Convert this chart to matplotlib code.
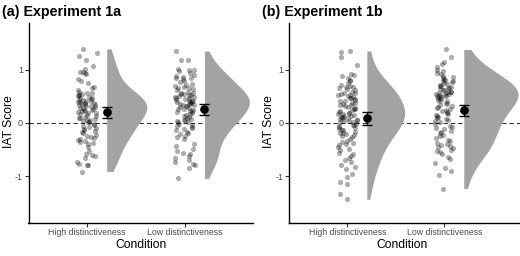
import numpy as np
import matplotlib
matplotlib.use("Agg")
import matplotlib.pyplot as plt

plt.rcParams['font.family'] = ['Liberation Sans', 'DejaVu Sans']

# ---------------- data ----------------
categories = ["High distinctiveness", "Low distinctiveness"]
panel_titles = ["(a) Experiment 1a", "(b) Experiment 1b"]
y_ticks = [-1, 0, 1]
y_tick_labels = ["-1", "0", "1"]

exp1a_high = [1.39, 1.31, 1.25, 1.19, 1.07, 1.02, 0.96, 0.95, 0.94, 0.92, 0.82, 0.78, 0.75, 0.68, 0.65, 0.62,
              0.58, 0.57, 0.56, 0.55, 0.53, 0.52, 0.50, 0.49, 0.47, 0.46, 0.45, 0.44, 0.43, 0.42, 0.41, 0.40,
              0.39, 0.38, 0.37, 0.36, 0.35, 0.34, 0.33, 0.32, 0.31, 0.30, 0.29, 0.28, 0.27, 0.25, 0.24, 0.23,
              0.22, 0.21, 0.19, 0.18, 0.16, 0.15, 0.13, 0.12, 0.10, 0.09, 0.07, 0.06, 0.05, 0.03, 0.02, 0.01,
              -0.01, -0.03, -0.05, -0.07, -0.09, -0.11, -0.13, -0.15, -0.17, -0.19,
              -0.22, -0.25, -0.27, -0.28, -0.30, -0.31, -0.34, -0.36, -0.37, -0.39,
              -0.45, -0.52, -0.58, -0.60, -0.62, -0.65, -0.73, -0.76, -0.78, -0.79, -0.91]
exp1a_low = [1.35, 1.19, 1.18, 1.02, 1.00, 0.99, 0.97, 0.93, 0.90, 0.88, 0.86, 0.85, 0.84, 0.82,
             0.78, 0.76, 0.74, 0.72, 0.70, 0.68, 0.66, 0.65, 0.63, 0.61,
             0.59, 0.57, 0.56, 0.55, 0.54, 0.53, 0.52, 0.50, 0.49, 0.48, 0.47, 0.46, 0.45, 0.44, 0.43,
             0.42, 0.41, 0.40, 0.39, 0.38, 0.37, 0.36, 0.35, 0.34, 0.33, 0.32, 0.31, 0.30, 0.28, 0.27,
             0.26, 0.24, 0.23, 0.22, 0.21, 0.19, 0.17, 0.15, 0.13, 0.11, 0.09, 0.08, 0.06, 0.05, 0.03,
             0.02, 0.01, -0.02, -0.04, -0.06, -0.08, -0.10, -0.12, -0.14, -0.17, -0.19,
             -0.21, -0.24, -0.27, -0.30, -0.39, -0.43, -0.48, -0.52, -0.56, -0.58,
             -0.62, -0.65, -0.70, -0.74, -0.76, -0.79, -0.85, -1.04]
exp1b_high = [1.35, 1.33, 1.24, 1.08, 0.92, 0.90, 0.88, 0.85, 0.80,
              0.78, 0.75, 0.72, 0.70, 0.68, 0.67, 0.65, 0.63, 0.61,
              0.58, 0.57, 0.56, 0.55, 0.53, 0.52, 0.51, 0.49, 0.47, 0.46, 0.45, 0.44, 0.42, 0.41,
              0.38, 0.37, 0.36, 0.34, 0.33, 0.32, 0.30, 0.28, 0.27, 0.26, 0.24, 0.22, 0.21,
              0.19, 0.18, 0.17, 0.16, 0.15, 0.14, 0.13, 0.12, 0.11, 0.10, 0.09, 0.08, 0.06, 0.05,
              0.04, 0.03, 0.02, 0.01,
              -0.01, -0.03, -0.04, -0.06, -0.08, -0.09, -0.11, -0.13, -0.14, -0.16, -0.18, -0.19,
              -0.21, -0.23, -0.25, -0.27, -0.30, -0.33, -0.36, -0.38, -0.39,
              -0.42, -0.45, -0.48, -0.50, -0.56, -0.59,
              -0.62, -0.66, -0.70, -0.73, -0.78,
              -0.82, -0.87, -0.95, -1.01, -1.10, -1.15, -1.33, -1.43]
exp1b_low = [1.38, 1.23, 1.15, 1.10, 1.05, 1.00,
             0.97, 0.94, 0.91, 0.89, 0.87, 0.85, 0.83, 0.81,
             0.79, 0.78, 0.76, 0.75, 0.73, 0.72, 0.70, 0.69, 0.67, 0.66, 0.65, 0.63, 0.62, 0.61,
             0.59, 0.58, 0.58, 0.57, 0.56, 0.55, 0.54, 0.53, 0.52, 0.51, 0.50, 0.49, 0.48, 0.47,
             0.45, 0.44, 0.42, 0.41,
             0.38, 0.36, 0.34, 0.32, 0.30, 0.28, 0.26, 0.24, 0.22, 0.21,
             0.19, 0.17, 0.15, 0.13, 0.11, 0.09, 0.07, 0.05, 0.03, 0.01,
             -0.02, -0.05, -0.07, -0.10, -0.12, -0.15, -0.17, -0.19,
             -0.22, -0.25, -0.28, -0.31, -0.34, -0.37, -0.39,
             -0.41, -0.43, -0.45, -0.47, -0.50, -0.52, -0.55, -0.58,
             -0.64, -0.68, -0.75, -0.85, -0.90, -0.98, -1.23]

# group means and 95% CI
means = [[0.20, 0.26], [0.09, 0.245]]
ci_low = [[0.095, 0.155], [-0.03, 0.137]]
ci_high = [[0.30, 0.36], [0.20, 0.34]]

scores = [[exp1a_high, exp1a_low], [exp1b_high, exp1b_low]]

# ---------------- style ----------------
violin_widths = [[0.41, 0.46], [0.39, 0.56]]   # max half-violin width (x units)
bw_adjust = 1.25

# ---------------- helpers ----------------
def bw_nrd0(x):
    x = np.asarray(x)
    sd = np.std(x, ddof=1)
    iqr = np.subtract(*np.percentile(x, [75, 25]))
    lo = min(sd, iqr / 1.34)
    return 0.9 * lo * len(x) ** (-0.2)

def kde(x):
    x = np.asarray(x)
    h = bw_nrd0(x) * bw_adjust
    grid = np.linspace(x.min(), x.max(), 512)
    d = np.exp(-0.5 * ((grid[:, None] - x[None, :]) / h) ** 2).sum(axis=1)
    d /= (len(x) * h * np.sqrt(2 * np.pi))
    return grid, d

def jitter_offsets(n, seed, width=0.10):
    # deterministic hash-based jitter (position only, not data)
    k = np.arange(n) + seed * 1000
    v = np.sin(k * 12.9898 + 78.233) * 43758.5453
    return ((v - np.floor(v)) - 0.5) * 2 * width

# ---------------- figure ----------------
W, H = 520, 256
fig = plt.figure(figsize=(W / 100, H / 100), dpi=100)

ax_px = [(28.5, 253.3), (289.3, 520.0)]
top_px, bot_px = 23.3, 222.7
xlims = [(0.4, 2.70), (0.4, 2.78)]
ylim = (-1.87, 1.87)
nudge = 0.2
tick_col = "#4d4d4d"

for p in range(2):
    l, r = ax_px[p]
    ax = fig.add_axes([l / W, (H - bot_px) / H, (r - l) / W, (bot_px - top_px) / H])
    ax.set_xlim(*xlims[p])
    ax.set_ylim(*ylim)
    for s in ["top", "right"]:
        ax.spines[s].set_visible(False)
    for s in ["left", "bottom"]:
        ax.spines[s].set_linewidth(1.0)
        ax.spines[s].set_color("black")

    ax.axhline(0, color="#333333", lw=0.8, linestyle=(0, (3.9, 2.7)), zorder=1)

    for i, g in enumerate(scores[p]):
        xc = i + 1
        yv = np.asarray(g)
        ax.scatter(xc + jitter_offsets(len(yv), p * 2 + i + 1), yv, s=14, color="black",
                   alpha=0.32, linewidths=0, zorder=3)
        grid, d = kde(yv)
        x0 = xc + nudge
        ax.fill_betweenx(grid, x0, x0 + d / d.max() * violin_widths[p][i], color="#a3a3a3",
                         linewidth=0, zorder=2)
        m = means[p][i]
        ax.errorbar([x0], [m], yerr=[[m - ci_low[p][i]], [ci_high[p][i] - m]],
                    fmt="o", color="black", ms=5.2, elinewidth=1.0, capsize=3.6,
                    capthick=1.0, zorder=5)

    ax.set_xticks([1, 2])
    ax.set_xticklabels(categories, fontsize=6.3, color=tick_col)
    ax.set_yticks(y_ticks)
    ax.set_yticklabels(y_tick_labels, fontsize=6.5, color=tick_col)
    ax.tick_params(axis="both", length=2.6, width=0.8, color="#333333", pad=1.4)

# titles and labels
fig.text(2 / W, 1 - 15.7 / H, panel_titles[0], fontsize=10.3, fontweight="bold",
         va="baseline", ha="left")
fig.text(262 / W, 1 - 15.7 / H, panel_titles[1], fontsize=10.3, fontweight="bold",
         va="baseline", ha="left")
for cx in [8.7, 268.7]:
    fig.text(cx / W, 1 - 122 / H, "IAT Score", rotation=90, fontsize=8.7,
             va="center", ha="center")
for cx in [140.9, 401.7]:
    fig.text(cx / W, 1 - 248 / H, "Condition", fontsize=8.7, va="baseline", ha="center")

fig.savefig("out.png", dpi=100)
